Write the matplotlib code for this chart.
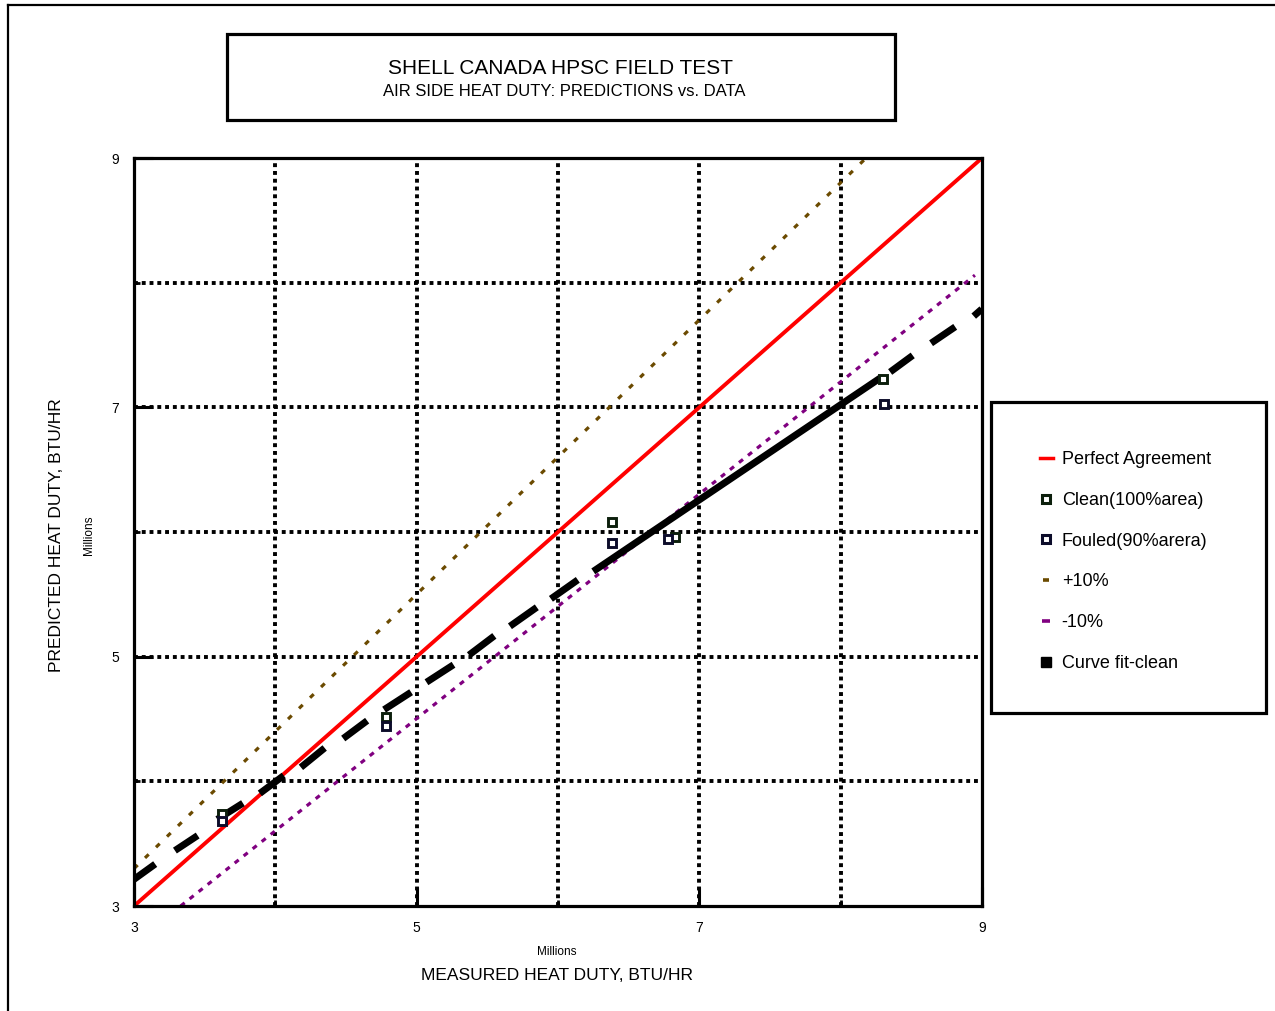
import numpy as np
import matplotlib.pyplot as plt
from matplotlib.lines import Line2D
from matplotlib.patches import Rectangle

plt.rcParams['font.family'] = ['Liberation Sans', 'DejaVu Sans']

# heat duty in millions of BTU/HR
perfect_x = [3.0, 9.0]
perfect_y = [3.0, 9.0]

plus_x = [3.0, 8.18]
plus_y = [3.3, 9.0]

minus_x = [3.33, 8.95]
minus_y = [3.0, 8.06]

clean_x = [3.62, 4.78, 6.38, 6.83, 8.30]
clean_y = [3.74, 4.52, 6.08, 5.96, 7.23]

fouled_x = [3.62, 4.78, 6.38, 6.78, 8.31]
fouled_y = [3.68, 4.44, 5.91, 5.94, 7.03]

# curve fit (clean) drawn as short runs of points
fit_x0 = [3.02, 3.31, 3.61, 3.91, 4.20, 4.50, 4.79, 5.09, 5.39, 5.68, 5.97, 6.27, 8.37, 8.66, 8.96]
fit_y0 = [3.23, 3.46, 3.71, 3.92, 4.13, 4.36, 4.59, 4.81, 5.03, 5.26, 5.48, 5.70, 7.30, 7.53, 7.75]
fit_x1 = [3.13, 3.43, 3.75, 4.04, 4.33, 4.63, 4.94, 5.24, 5.53, 5.83, 6.12, 8.26, 8.49, 8.79, 8.98]
fit_y1 = [3.32, 3.55, 3.81, 4.03, 4.25, 4.47, 4.70, 4.92, 5.15, 5.38, 5.60, 7.22, 7.40, 7.63, 7.77]

x_major = [3, 5, 7, 9]
x_minor = [4, 6, 8]
y_major = [3, 5, 7, 9]
y_minor = [4, 6, 8]

W, H = 1275, 1011
fig = plt.figure(figsize=(W / 100, H / 100), dpi=100)


def fx(px):
    return px / W


def fy(py):
    return 1 - py / H


ax = fig.add_axes([fx(134), fy(906), (982 - 134) / W, (906 - 158) / H])

brown = '#6b4a00'
purple = '#800080'

# dotted grid on the inner ticks only
for v in sorted(x_minor + x_major[1:-1]):
    ax.axvline(v, color='black', lw=2.8, ls=(0, (1, 1)), zorder=1)
for v in sorted(y_minor + y_major[1:-1]):
    ax.axhline(v, color='black', lw=2.8, ls=(0, (1, 1)), zorder=1)

ax.plot(plus_x, plus_y, color=brown, lw=2.3, dashes=(1.6, 3.2), zorder=3)
ax.plot(minus_x, minus_y, color=purple, lw=2.3, dashes=(1.6, 2.0), zorder=3)
ax.plot(perfect_x, perfect_y, color='#ff0000', lw=2.8, zorder=4)

for a, b, c, d in zip(fit_x0, fit_x1, fit_y0, fit_y1):
    ax.plot([a, b], [c, d], color='black', lw=5, solid_capstyle='projecting', zorder=5)

ax.plot(clean_x, clean_y, ls='none', marker='s', ms=5.5, mew=2.1,
        mfc='white', mec='#0c1f0c', zorder=6)
ax.plot(fouled_x, fouled_y, ls='none', marker='s', ms=5.5, mew=2.1,
        mfc='white', mec='#0c0c2a', zorder=6)

ax.set_xlim(3, 9)
ax.set_ylim(3, 9)
ax.set_xticks(x_major)
ax.set_xticks(x_minor, minor=True)
ax.set_yticks(y_major)
ax.set_yticks(y_minor, minor=True)
ax.tick_params(which='major', direction='in', length=14, width=2.2, labelsize=10, pad=11)
ax.tick_params(which='minor', direction='in', length=4, width=2.0)
for s in ax.spines.values():
    s.set_linewidth(2.3)
    s.set_zorder(7)

fig.text(fx(557), fy(952), 'Millions', fontsize=8.5, ha='center', va='center')
fig.text(fx(557), fy(975), 'MEASURED HEAT DUTY, BTU/HR', fontsize=12.5, ha='center', va='center')
fig.text(fx(89), fy(535), 'Millions', fontsize=8.5, ha='center', va='center', rotation=90)
fig.text(fx(57), fy(535), 'PREDICTED HEAT DUTY, BTU/HR', fontsize=12.5, ha='center',
         va='center', rotation=90)

# title box
fig.patches.append(Rectangle((fx(227), fy(120)), (895 - 227) / W, (120 - 34) / H,
                             transform=fig.transFigure, fill=False, lw=2.3, ec='black'))
fig.text(fx(561), fy(69), 'SHELL CANADA HPSC FIELD TEST', fontsize=15, ha='center', va='center')
fig.text(fx(564), fy(91), 'AIR SIDE HEAT DUTY: PREDICTIONS vs. DATA', fontsize=12,
         ha='center', va='center')

# legend box
fig.patches.append(Rectangle((fx(991), fy(713)), (1266 - 991) / W, (713 - 402) / H,
                             transform=fig.transFigure, fill=False, lw=2.3, ec='black'))
handles = [
    Line2D([], [], color='#ff0000', lw=2.5),
    Line2D([], [], ls='none', marker='s', ms=6, mew=2.2, mfc='white', mec='#0c1f0c'),
    Line2D([], [], ls='none', marker='s', ms=6, mew=2.2, mfc='white', mec='#0c0c2a'),
    Line2D([], [], ls='none', marker='_', ms=5, mew=2.6, color=brown),
    Line2D([], [], ls='none', marker='_', ms=6, mew=2.6, color=purple),
    Line2D([], [], ls='none', marker='s', ms=7, mfc='black', mec='black'),
]
labels = ['Perfect Agreement', 'Clean(100%area)', 'Fouled(90%arera)', '+10%', '-10%',
          'Curve fit-clean']
fig.legend(handles, labels, loc='upper left', bbox_to_anchor=(fx(1040), fy(451)),
           frameon=False, fontsize=13, handlelength=0.7, handletextpad=0.5,
           labelspacing=1.32, borderpad=0, borderaxespad=0)

# outer frame
fig.add_artist(Line2D([fx(8), fx(8)], [fy(5), 0], color='black', lw=1.6))
fig.add_artist(Line2D([fx(8), 1], [fy(5), fy(5)], color='black', lw=1.6))

fig.savefig('out.png', dpi=100)
